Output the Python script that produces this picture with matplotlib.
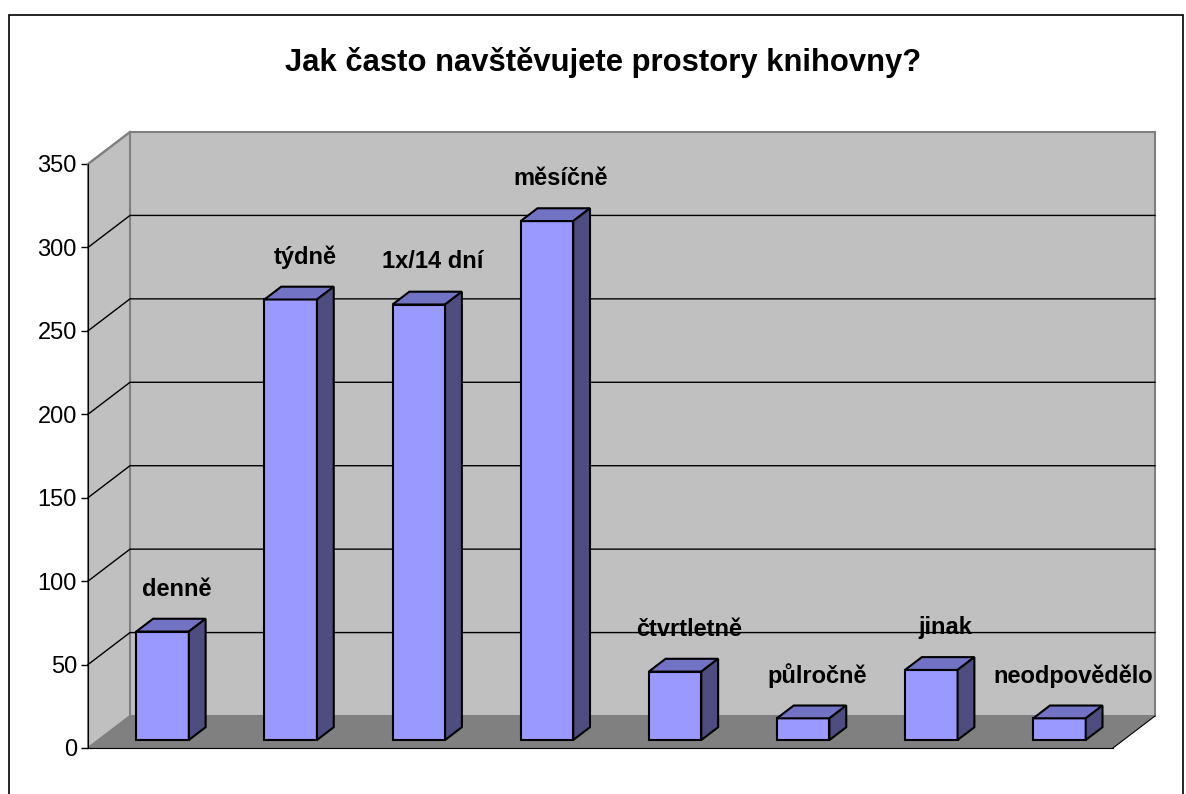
#!/usr/bin/env python
'''
3D-look bar chart, survey of library visits
'''
import matplotlib
matplotlib.use('Agg')
import matplotlib.pyplot as plt
from matplotlib.patches import Polygon, Rectangle

categories = ['denně', 'týdně', '1x/14 dní', 'měsíčně', 'čtvrtletně', 'půlročně', 'jinak', 'neodpovědělo']
values = [65, 264, 261, 311, 41, 13, 42, 13]
yticks = [0, 50, 100, 150, 200, 250, 300, 350]
title = 'Jak často navštěvujete prostory knihovny?'

plt.rcParams['font.family'] = ['Liberation Sans', 'DejaVu Sans']

W, H = 1186, 794
fig = plt.figure(figsize=(W/100., H/100.), dpi=100)

# front plane of the chart box in pixels
left, right, bot, top = 88, 1113, 748, 164
ax = fig.add_axes([left/W, (H-bot)/H, (right-left)/W, (bot-top)/H])
N = len(categories)
xlo, xhi = -0.5, N-0.5
ylo, yhi = 0., 350.
ax.set_xlim(xlo, xhi)
ax.set_ylim(ylo, yhi)

# depth of the box, converted from pixels to data units
ddx = 42. * (xhi-xlo) / (right-left)
ddy = 32. * (yhi-ylo) / (bot-top)

wall = '#C0C0C0'
floor = '#808080'
kw = dict(clip_on=False)

# floor
ax.add_patch(Polygon([(xlo, 0), (xhi, 0), (xhi+ddx, ddy), (xlo+ddx, ddy)],
                     closed=True, facecolor=floor, edgecolor='none', zorder=1, **kw))
ax.plot([xhi, xhi+ddx], [0, ddy], color='black', lw=0.8, zorder=2, **kw)
# back wall
ax.add_patch(Rectangle((xlo+ddx, ddy), xhi-xlo, yhi-ylo, facecolor=wall,
                       edgecolor=floor, lw=1.5, zorder=1, **kw))
# side wall
ax.add_patch(Polygon([(xlo, 0), (xlo, yhi), (xlo+ddx, yhi+ddy), (xlo+ddx, ddy)],
                     closed=True, facecolor=wall, edgecolor=floor, lw=1.5, zorder=1, **kw))
# gridlines
for v in yticks[1:-1]:
    ax.plot([xlo, xlo+ddx, xhi+ddx], [v, v+ddy, v+ddy], color='black', lw=1, zorder=2, **kw)
ax.plot([xlo, xlo+ddx], [yhi, yhi+ddy], color=floor, lw=1.5, zorder=2, **kw)

# bars
bw = 0.41
f1, f2 = 0.25, 0.65
front_c, top_c, side_c = '#9999FF', '#7373C6', '#4D4D80'
for i, v in enumerate(values):
    x0 = i - bw/2 + f1*ddx
    x1 = i + bw/2 + f1*ddx
    y0 = f1*ddy
    sx, sy = (f2-f1)*ddx, (f2-f1)*ddy
    ax.add_patch(Polygon([(x0, y0), (x1, y0), (x1, y0+v), (x0, y0+v)], closed=True,
                         facecolor=front_c, edgecolor='black', lw=1.5, zorder=3, **kw))
    ax.add_patch(Polygon([(x0, y0+v), (x1, y0+v), (x1+sx, y0+v+sy), (x0+sx, y0+v+sy)], closed=True,
                         facecolor=top_c, edgecolor='black', lw=1.5, zorder=3, **kw))
    ax.add_patch(Polygon([(x1, y0), (x1+sx, y0+sy), (x1+sx, y0+v+sy), (x1, y0+v)], closed=True,
                         facecolor=side_c, edgecolor='black', lw=1.5, zorder=3, **kw))
    ax.annotate(categories[i], (i + 0.45*ddx + 0.045, v + 0.45*ddy), xytext=(0, 26),
                textcoords='offset points', ha='center', va='center',
                fontsize=17, fontweight='bold', zorder=4)

ax.set_facecolor('none')
for s in ['top', 'right']:
    ax.spines[s].set_visible(False)
ax.spines['left'].set_zorder(5)
ax.spines['bottom'].set_zorder(2)
ax.spines['bottom'].set_linewidth(0.8)
ax.set_xticks([])
ax.set_yticks(yticks)
ax.tick_params(axis='y', length=5, width=1, labelsize=17, pad=3)

fig.text(603/W, 1-62/H, title, ha='center', va='center', fontsize=22.3, fontweight='bold')

# chart area border
fig.patches.append(Rectangle((9/W, -0.05), (1183-9)/W, 1.05-15/H, transform=fig.transFigure,
                             facecolor='none', edgecolor='black', lw=1.2))

fig.savefig('out.png', dpi=100)
